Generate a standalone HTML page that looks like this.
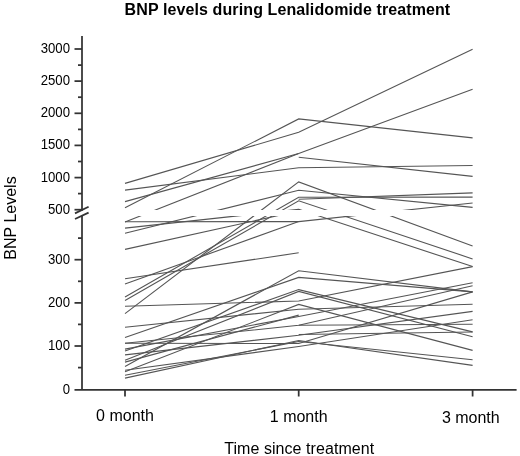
<!DOCTYPE html><html><head><meta charset="utf-8"><style>html,body{margin:0;padding:0;background:#fff;}svg{display:block;filter:grayscale(1);}text{font-family:"Liberation Sans",sans-serif;fill:#000;}</style></head><body>
<svg width="520" height="456" viewBox="0 0 520 456">
<g stroke="#333" stroke-width="1.75" fill="none">
<line x1="82.0" y1="36" x2="82.0" y2="210.7"/>
<line x1="82.0" y1="216.0" x2="82.0" y2="390"/>
<line x1="74.5" y1="389.8" x2="516.6" y2="389.8"/>
<line x1="125" y1="389" x2="125" y2="396.5"/>
<line x1="298.7" y1="389" x2="298.7" y2="396.5"/>
<line x1="472.6" y1="389" x2="472.6" y2="396.5"/>
<line x1="74.5" y1="209.7" x2="82.0" y2="209.7"/>
<line x1="74.5" y1="177.6" x2="82.0" y2="177.6"/>
<line x1="74.5" y1="145.4" x2="82.0" y2="145.4"/>
<line x1="74.5" y1="113.3" x2="82.0" y2="113.3"/>
<line x1="74.5" y1="81.1" x2="82.0" y2="81.1"/>
<line x1="74.5" y1="49.0" x2="82.0" y2="49.0"/>
<line x1="78" y1="193.6" x2="82.0" y2="193.6"/>
<line x1="78" y1="161.5" x2="82.0" y2="161.5"/>
<line x1="78" y1="129.4" x2="82.0" y2="129.4"/>
<line x1="78" y1="97.2" x2="82.0" y2="97.2"/>
<line x1="78" y1="65.1" x2="82.0" y2="65.1"/>
<line x1="74.5" y1="346.0" x2="82.0" y2="346.0"/>
<line x1="74.5" y1="302.9" x2="82.0" y2="302.9"/>
<line x1="74.5" y1="259.7" x2="82.0" y2="259.7"/>
<line x1="78" y1="367.6" x2="82.0" y2="367.6"/>
<line x1="78" y1="324.4" x2="82.0" y2="324.4"/>
<line x1="78" y1="281.3" x2="82.0" y2="281.3"/>
<line x1="78" y1="238.1" x2="82.0" y2="238.1"/>
<line x1="75" y1="213.4" x2="88.6" y2="206.7"/>
<line x1="75" y1="219" x2="88.6" y2="212.6"/>
</g>
<g font-size="14" text-anchor="end">
<text x="70" y="213.7" textLength="22.0" lengthAdjust="spacingAndGlyphs">500</text>
<text x="70" y="181.6" textLength="29.3" lengthAdjust="spacingAndGlyphs">1000</text>
<text x="70" y="149.4" textLength="29.3" lengthAdjust="spacingAndGlyphs">1500</text>
<text x="70" y="117.3" textLength="29.3" lengthAdjust="spacingAndGlyphs">2000</text>
<text x="70" y="85.1" textLength="29.3" lengthAdjust="spacingAndGlyphs">2500</text>
<text x="70" y="53.0" textLength="29.3" lengthAdjust="spacingAndGlyphs">3000</text>
<text x="70" y="393.5" textLength="7.3" lengthAdjust="spacingAndGlyphs">0</text>
<text x="70" y="350.3" textLength="22.0" lengthAdjust="spacingAndGlyphs">100</text>
<text x="70" y="307.2" textLength="22.0" lengthAdjust="spacingAndGlyphs">200</text>
<text x="70" y="264.0" textLength="22.0" lengthAdjust="spacingAndGlyphs">300</text>
</g>
<g font-size="16" text-anchor="middle">
<text x="125" y="420.5">0 month</text>
<text x="298.7" y="422.1">1 month</text>
<text x="470.8" y="422.6">3 month</text>
<text x="299.2" y="453.6" textLength="150">Time since treatment</text>
<text transform="translate(15.5,218) rotate(-90)">BNP Levels</text>
</g>
<text x="124.6" y="14.7" font-size="16" font-weight="bold" textLength="325.6">BNP levels during Lenalidomide treatment</text>
<g stroke="#555" stroke-width="1.1" fill="none">
<polyline points="125,183.4 298.7,132.3 472.6,49.3"/>
<polyline points="125,190.1 298.7,167.8 472.6,165.5"/>
<polyline points="125,201.6 298.7,153.5 472.6,89.2"/>
<polyline points="125,207.8 298.7,118.9 472.6,137.9"/>
<polyline points="125,222.0 298.7,153.5"/>
<polyline points="298.7,157.2 472.6,176.4"/>
<polyline points="298.7,199.2 472.6,192.9"/>
<polyline points="125,297.1 298.7,197.3 472.6,197.1"/>
<polyline points="125,300.4 298.7,200.8 472.6,258.9"/>
<polyline points="125,313.6 298.7,181.9 472.6,246.1"/>
<polyline points="125,233.3 298.7,190.3 472.6,207.4"/>
<polyline points="125,221.7 298.7,221.6 472.6,203.0"/>
<polyline points="125,284.0 298.7,221.6"/>
<polyline points="125,228.1 298.7,209.2 472.6,266.6"/>
<polyline points="125,249.4 298.7,211.0"/>
<polyline points="125,278.7 298.7,252.8"/>
<polyline points="125,306.3 298.7,301.0 472.6,266.6"/>
<polyline points="125,327.3 298.7,309.2 472.6,304.3"/>
<polyline points="125,337.5 298.7,277.4 472.6,291.9"/>
<polyline points="125,343.3 298.7,343.5 472.6,291.9"/>
<polyline points="125,343.3 298.7,325.3 472.6,285.8"/>
<polyline points="298.7,325.3 472.6,324.2"/>
<polyline points="125,349.1 298.7,316.5 472.6,282.7"/>
<polyline points="125,351.0 298.7,289.6 472.6,331.9"/>
<polyline points="125,354.9 298.7,335.3 472.6,311.4"/>
<polyline points="125,360.2 298.7,291.4 472.6,336.8"/>
<polyline points="125,362.1 298.7,315.1"/>
<polyline points="125,366.5 298.7,270.7 472.6,291.9"/>
<polyline points="125,370.3 298.7,346.5 472.6,319.8"/>
<polyline points="125,371.8 298.7,304.4 472.6,350.4"/>
<polyline points="125,375.2 298.7,341.5 472.6,359.7"/>
<polyline points="125,378.1 298.7,340.5 472.6,365.4"/>
<polyline points="298.7,334.5 472.6,332.0"/>
</g>
<rect x="89" y="210" width="431" height="6" fill="#fff"/>
</svg></body></html>
